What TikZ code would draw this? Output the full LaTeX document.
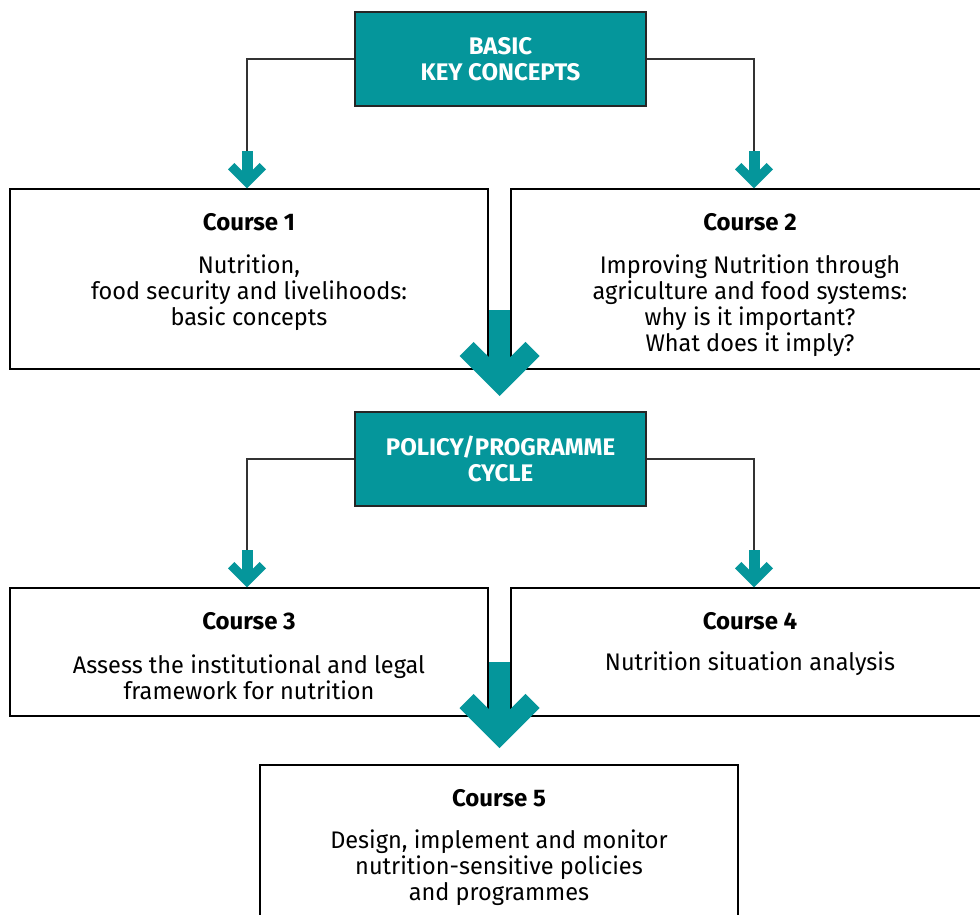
\documentclass[tikz,border=0pt]{standalone}
\usepackage{fontspec}
\setmainfont{Fira Sans}
\newfontfamily\bodyfont[FakeStretch=0.98]{Fira Sans}
\definecolor{tealA}{RGB}{5,150,155}
\begin{document}
\begin{tikzpicture}[x=1pt,y=-1pt,
  hdr/.style={draw=black!85, line width=1.3pt, fill=tealA, inner sep=0pt, minimum width=291pt, minimum height=94pt},
  crs/.style={draw=black, line width=1.3pt, fill=white, inner sep=0pt},
  hdrtxt/.style={text=white, font=\bfseries\fontsize{24}{26}\selectfont, align=center, inner sep=0pt},
  ttl/.style={font=\bfseries\fontsize{24}{26}\selectfont, inner sep=0pt},
  body/.style={font=\bodyfont\fontsize{24}{26}\selectfont, align=center, inner sep=0pt},
  conn/.style={draw=black!80, line width=1.1pt},
  smallarrow/.pic={
    \fill[tealA] (-5.5,-37) rectangle (5.5,-10);
    \fill[tealA] (0,0) -- (-19,-19) -- (-12.6,-25.4) -- (0,-12.7) -- (12.6,-25.4) -- (19,-19) -- cycle;
  },
  bigarrow/.pic={
    \fill[tealA] (-10.5,-86) rectangle (10.5,-25);
    \fill[tealA] (0,0) -- (-40,-40) -- (-25.9,-54.1) -- (0,-28.3) -- (25.9,-54.1) -- (40,-40) -- cycle;
  },
]
\useasboundingbox (0,0) rectangle (980,915);

% level 1
\node[hdr] (h1) at (500.5,59) {};
\node[hdrtxt] (h1t) at (500.5,59) {BASIC\\KEY CONCEPTS};
\node[crs, minimum width=478pt, minimum height=180pt] (c1) at (249,279) {};
\node[crs, minimum width=478pt, minimum height=180pt] (c2) at (750,279) {};
\coordinate (a1) at (247,152);
\coordinate (a2) at (754,152);
\draw[conn] (h1.west) -| (a1);
\draw[conn] (h1.east) -| (a2);
\pic at (a1 |- c1.north) {smallarrow};
\pic at (a2 |- c2.north) {smallarrow};

\node[ttl] (t1) at (249,222) {Course 1};
\node[body] (b1) at (249,293) {Nutrition,\\food security and livelihoods:\\basic concepts};
\node[ttl] (t2) at (750,222) {Course 2};
\node[body] (b2) at (750,306) {Improving Nutrition through\\agriculture and food systems:\\why is it important?\\What does it imply?};

\coordinate (g1) at (499.5,396);
\pic at (g1) {bigarrow};

% level 2
\node[hdr] (h2) at (500.5,459) {};
\node[hdrtxt] (h2t) at (500.5,459) {POLICY/PROGRAMME\\CYCLE};
\node[crs, minimum width=478pt, minimum height=128pt] (c3) at (249,652) {};
\node[crs, minimum width=478pt, minimum height=128pt] (c4) at (750,652) {};
\coordinate (a3) at (247,552);
\coordinate (a4) at (754,552);
\draw[conn] (h2.west) -| (a3);
\draw[conn] (h2.east) -| (a4);
\pic at (a3 |- c3.north) {smallarrow};
\pic at (a4 |- c4.north) {smallarrow};

\node[ttl] (t3) at (249,621) {Course 3};
\node[body] (b3) at (249,677) {Assess the institutional and legal\\framework for nutrition};
\node[ttl] (t4) at (750,621) {Course 4};
\node[body] (b4) at (750,664) {Nutrition situation analysis};

\node[crs, minimum width=478pt, minimum height=160pt] (c5) at (499,845) {};
\coordinate (g2) at (499.5,748);
\pic at (g2) {bigarrow};

\node[ttl] (t5) at (499,798) {Course 5};
\node[body] (b5) at (499,868) {Design, implement and monitor\\nutrition-sensitive policies\\and programmes};
\end{tikzpicture}
\end{document}
